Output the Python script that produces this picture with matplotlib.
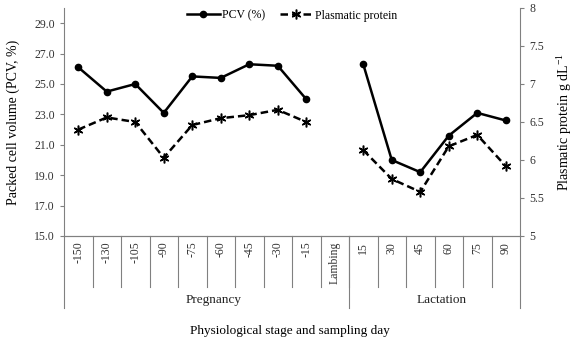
import numpy as np
import matplotlib
matplotlib.use("Agg")
import matplotlib.pyplot as plt

plt.rcParams['font.family'] = ['Liberation Serif', 'DejaVu Serif']

days = ['-150', '-130', '-105', '-90', '-75', '-60', '-45', '-30', '-15',
        'Lambing', '15', '30', '45', '60', '75', '90']
groups = ['Pregnancy', 'Lactation']
group_sizes = [10, 6]
pcv = [26.1, 24.5, 25.0, 23.1, 25.5, 25.4, 26.3, 26.2, 24.0,
       np.nan, 26.3, 20.0, 19.2, 21.6, 23.1, 22.6]
protein = [6.40, 6.56, 6.50, 6.03, 6.46, 6.55, 6.59, 6.66, 6.50,
           np.nan, 6.13, 5.75, 5.58, 6.18, 6.33, 5.92]

fig = plt.figure(figsize=(5.76, 3.44), dpi=100)
ax = fig.add_axes([64 / 576, 1 - 236 / 344, 456 / 576, 228 / 344])
ax2 = ax.twinx()

x = np.arange(len(days))
gray = '#808080'
l1, = ax.plot(x, pcv, '-o', color='black', lw=1.8, ms=4.5, label='PCV (%)')
l2, = ax2.plot(x, protein, '--', color='black', lw=1.8, dashes=(3, 1.6),
               marker=(6, 2, 0), ms=7, mew=1.1, label='Plasmatic protein')

ax.set_xlim(-0.5, len(days) - 0.5)
ax.set_ylim(15, 30)
ax.set_yticks(np.arange(15, 30, 2.0))
ax.set_yticklabels(['%.1f' % v for v in np.arange(15, 30, 2.0)])
ax2.set_ylim(5, 8)
ax2.set_yticks([5, 5.5, 6, 6.5, 7, 7.5, 8])
ax2.set_yticklabels(['5', '5.5', '6', '6.5', '7', '7.5', '8'])
ax.set_xticks([])

for a in (ax, ax2):
    a.spines['top'].set_visible(False)
    for s in a.spines.values():
        s.set_color(gray)
        s.set_linewidth(0.8)
    a.tick_params(axis='y', colors=gray, labelcolor='#333333', labelsize=8.5,
                  length=3, width=0.8)
ax2.spines['left'].set_visible(False)
ax.spines['right'].set_visible(False)

# category separators and labels
n = len(days)
cat_y = -51 / 228
grp_y = -72 / 228
for i in range(1, n):
    ax.plot([i / n, i / n], [0, cat_y], transform=ax.transAxes, color=gray,
            lw=0.8, clip_on=False)
for i, d in enumerate(days):
    ax.text((i + 0.5) / n, -0.025, d, transform=ax.transAxes, rotation=90,
            ha='center', va='top', fontsize=8.5, color='#333333')

edges = np.cumsum([0] + group_sizes)
for e in edges:
    ax.plot([e / n, e / n], [0, grp_y], transform=ax.transAxes, color=gray,
            lw=0.8, clip_on=False)
for g, a0, a1 in zip(groups, edges[:-1], edges[1:]):
    ax.text((a0 + a1) / 2 / n + 0.016, -64 / 228, g, transform=ax.transAxes,
            ha='center', va='center', fontsize=9.5, color='#222222')

ax.set_ylabel('Packed cell volume (PCV, %)', fontsize=10, labelpad=10)
ax2.set_ylabel('Plasmatic protein g dL$\\mathregular{^{-1}}$', fontsize=10,
               labelpad=8)
fig.text(290 / 576, 1 - 331 / 344, 'Physiological stage and sampling day',
         ha='center', va='center', fontsize=9.5)

ax.legend(handles=[l1, l2], loc='upper center', bbox_to_anchor=(0.5, 1.04),
          ncol=2, frameon=False, fontsize=8.5, handlelength=2.8,
          columnspacing=1.2, handletextpad=0.2)

fig.savefig('out.png', dpi=100)
